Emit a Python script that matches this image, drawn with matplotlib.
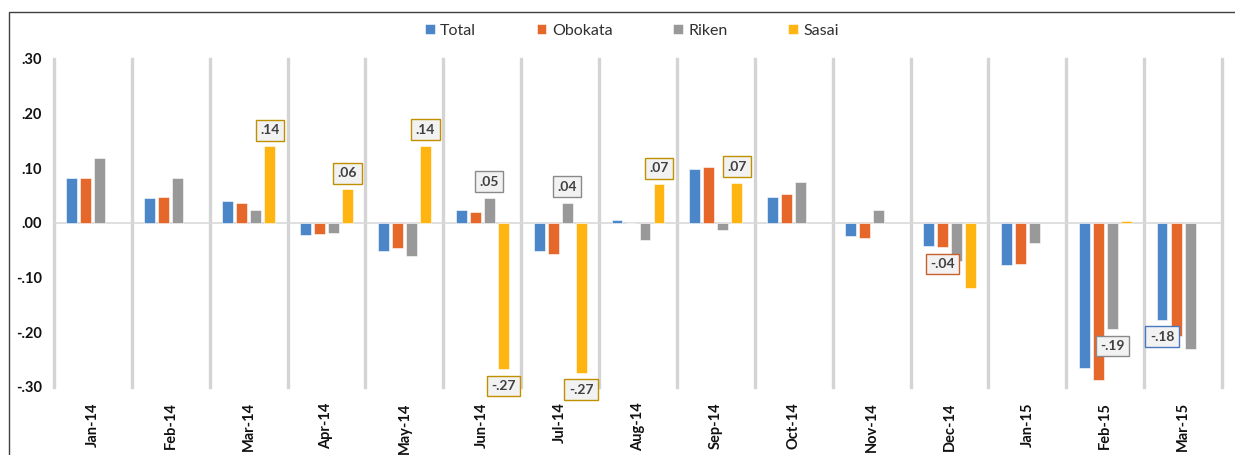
import numpy as np
import matplotlib
matplotlib.use("Agg")
import matplotlib.pyplot as plt
from matplotlib.patches import Rectangle
from matplotlib.ticker import FuncFormatter

months = ["Jan-14", "Feb-14", "Mar-14", "Apr-14", "May-14", "Jun-14", "Jul-14",
          "Aug-14", "Sep-14", "Oct-14", "Nov-14", "Dec-14", "Jan-15", "Feb-15", "Mar-15"]
nan = np.nan
total = [0.083, 0.045, 0.040, -0.022, -0.051, 0.023, -0.051, 0.005, 0.098, 0.047,
         -0.023, -0.042, -0.077, -0.265, -0.177]
obokata = [0.082, 0.048, 0.037, -0.021, -0.046, 0.021, -0.057, 0.0, 0.102, 0.053,
           -0.028, -0.044, -0.075, -0.287, -0.207]
riken = [0.118, 0.082, 0.024, -0.018, -0.060, 0.046, 0.037, -0.032, -0.013, 0.075,
         0.023, -0.069, -0.037, -0.194, -0.230]
sasai = [nan, nan, 0.140, 0.062, 0.141, -0.267, -0.274, 0.071, 0.074, nan,
         nan, -0.119, nan, 0.004, nan]
series_names = ["Total", "Obokata", "Riken", "Sasai"]
series_values = [total, obokata, riken, sasai]
colors = ["#4a86c8", "#e5672a", "#999999", "#ffb511"]
label_edge = ["#4a78c0", "#c8602e", "#8a8a8a", "#bf9000"]
# (series index, month index) of labelled bars
labelled = [(3, 2), (3, 3), (3, 4), (3, 5), (3, 6), (3, 7), (3, 8),
            (2, 5), (2, 6), (1, 11), (2, 13), (0, 14)]

plt.rcParams['font.family'] = ['Lato', 'DejaVu Sans']

W, H = 1235, 455
fig = plt.figure(figsize=(W / 100, H / 100), dpi=100)
ax = fig.add_axes([54 / W, 1 - 387 / H, (1222 - 54) / W, (387 - 59) / H])

x = np.arange(len(months))
slot, bw = 0.18, 0.14
for k, (name, vals, c) in enumerate(zip(series_names, series_values, colors)):
    ax.bar(x + (k - 1.5) * slot, vals, width=bw, color=c, label=name,
           edgecolor="white", linewidth=0.4, zorder=3)

def fmt(v, pos=None):
    s = f"{v:.2f}"
    return s.replace("0.", ".", 1)

for si, mi in labelled:
    v = series_values[si][mi]
    xpos = x[mi] + (si - 1.5) * slot
    off = 16 if v >= 0 else -17
    ax.annotate(fmt(v), xy=(xpos, v), xytext=(0, off), textcoords="offset pixels",
                ha="center", va="center", fontsize=10, fontweight="bold", color="#404040",
                bbox=dict(boxstyle="square,pad=0.32", facecolor="#f2f2f2",
                          edgecolor=label_edge[si], linewidth=1.0),
                zorder=5, annotation_clip=False)

for b in np.arange(-0.5, len(months), 1.0):
    ax.axvline(b, color="#d4d4d4", linewidth=2.4, zorder=1, clip_on=False)
ax.axhline(0, color="#d9d9d9", linewidth=1.2, zorder=2)

ax.set_xlim(-0.5, len(months) - 0.5)
ax.set_ylim(-0.30, 0.30)
ax.set_yticks([-0.30, -0.20, -0.10, 0.0, 0.10, 0.20, 0.30])
ax.yaxis.set_major_formatter(FuncFormatter(fmt))
ax.set_xticks(x)
ax.set_xticklabels(months, rotation=90, ha="center", va="top")
ax.tick_params(axis="both", length=0, labelsize=10.5, labelcolor="#111111")
ax.tick_params(axis="y", pad=8.5)
ax.tick_params(axis="x", pad=11)
for lab in ax.get_xticklabels() + ax.get_yticklabels():
    lab.set_fontweight("bold")
for sp in ax.spines.values():
    sp.set_visible(False)

fig.legend(loc="center", bbox_to_anchor=(632 / W, 1 - 31 / H), ncol=4, frameon=False,
           fontsize=11.5, handlelength=0.6, handleheight=0.6, handletextpad=0.35,
           columnspacing=3.8, labelcolor="#303030")

fig.add_artist(Rectangle((9 / W, -0.2), 1.5, 1.2 - 12 / H, transform=fig.transFigure,
                         fill=False, edgecolor="#404040", linewidth=1.0))

fig.savefig("out.png", dpi=100)
